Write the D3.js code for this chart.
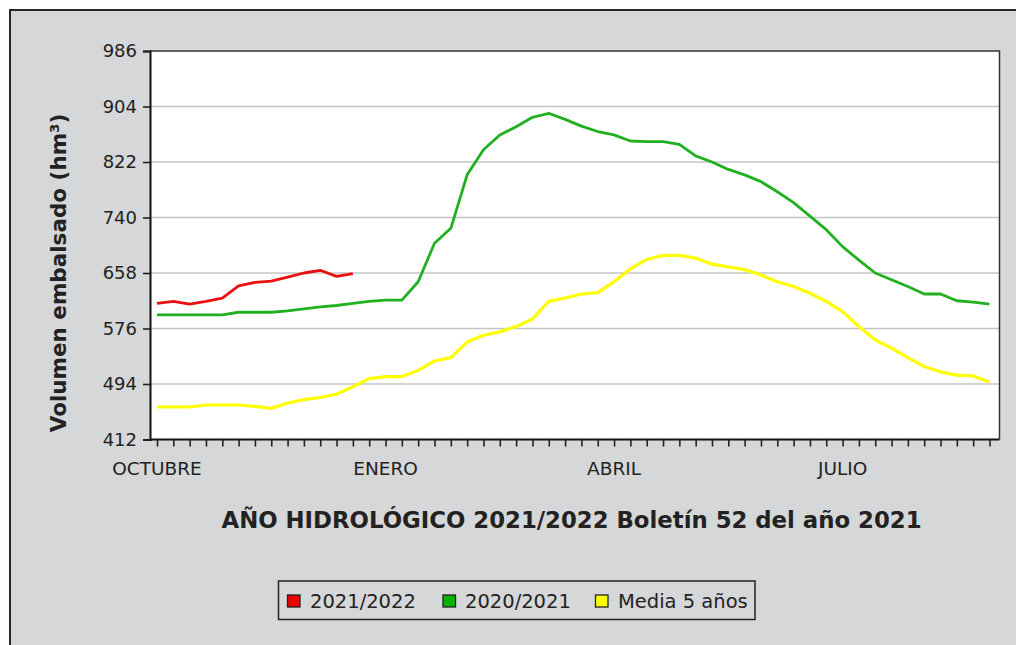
<!DOCTYPE html>
<html>
<head>
<meta charset="utf-8">
<script src="https://cdn.jsdelivr.net/npm/d3@7"></script>
<style>
  html, body { margin: 0; padding: 0; background: #ffffff; }
  svg { display: block; font-family: "DejaVu Sans", sans-serif; }
</style>
</head>
<body>
<svg id="chart" width="1016" height="645"></svg>
<script>
// ---- data ----
const weeks = d3.range(1, 53); // 52 weekly bulletins of the hydrological year
const monthLabels = ["OCTUBRE", "ENERO", "ABRIL", "JULIO"];
const monthLabelWeeks = [1, 15, 29, 43];
const yTickValues = [412, 494, 576, 658, 740, 822, 904, 986];
const seriesNames = ["2021/2022", "2020/2021", "Media 5 años"];

const serie2021_2022 = [613, 616, 612, 616, 621, 639, 644, 646, 652, 658, 662, 653, 657];

const serie2020_2021 = [596, 596, 596, 596, 596, 600, 600, 600, 602, 605, 608, 610, 613,
  616, 618, 618, 645, 702, 724, 803, 840, 862, 874, 888, 894, 885,
  875, 867, 862, 853, 852, 852, 848, 831, 822, 811, 803, 793, 778,
  762, 742, 722, 697, 677, 658, 648, 638, 627, 627, 617, 615, 612];

const serieMedia5 = [460, 460, 460, 463, 463, 463, 461, 458, 466, 471, 474, 479, 490,
  502, 505, 505, 514, 528, 533, 556, 566, 571, 579, 590, 616, 621,
  627, 629, 645, 664, 678, 684, 684, 680, 671, 667, 663, 655, 645,
  638, 628, 616, 601, 579, 559, 547, 533, 520, 512, 507, 506, 497];

const colors = ["#e81010", "#20b020", "#ffff00"];
const legendFill = ["#ee0000", "#00b400", "#ffff00"];

// ---- layout ----
const svg = d3.select("#chart");
const W = 1016, H = 645;
const plot = { left: 150, right: 999.5, top: 51, bottom: 439.5 };

// background
svg.append("rect").attr("x", 0).attr("y", 0).attr("width", W).attr("height", H).attr("fill", "#ffffff");
svg.append("rect").attr("x", 10).attr("y", 10).attr("width", W + 10).attr("height", H + 10)
  .attr("fill", "#d6d7d8").attr("stroke", "#111").attr("stroke-width", 1.8);

// plot background
svg.append("rect").attr("x", plot.left).attr("y", plot.top)
  .attr("width", plot.right - plot.left).attr("height", plot.bottom - plot.top)
  .attr("fill", "#ffffff");

const x = d3.scalePoint().domain(weeks).range([157, 989.5]);
const y = d3.scaleLinear().domain([412, 986]).range([plot.bottom, plot.top]);

// grid
svg.append("g").selectAll("line").data(yTickValues.slice(1, -1)).join("line")
  .attr("x1", plot.left).attr("x2", plot.right)
  .attr("y1", d => y(d)).attr("y2", d => y(d))
  .attr("stroke", "#c4c4c4").attr("stroke-width", 1.5);

// series lines
const line = d3.line().x((d, i) => x(weeks[i])).y(d => y(d));
const allSeries = [serieMedia5, serie2020_2021, serie2021_2022];
const allColors = [colors[2], colors[1], colors[0]];
svg.append("g").selectAll("path").data(allSeries).join("path")
  .attr("d", d => line(d))
  .attr("fill", "none")
  .attr("stroke", (d, i) => allColors[i])
  .attr("stroke-width", (d, i) => i === 0 ? 3.2 : 2.8)
  .attr("stroke-linejoin", "round");

// plot frame (top/right)
svg.append("path")
  .attr("d", `M${plot.left},${plot.top}H${plot.right}V${plot.bottom}`)
  .attr("fill", "none").attr("stroke", "#333").attr("stroke-width", 1.5);

// y axis
const yAxis = d3.axisLeft(y).tickValues(yTickValues).tickSize(7).tickPadding(6).tickFormat(d3.format("d"));
const gy = svg.append("g").attr("transform", `translate(${plot.left},0)`).call(yAxis);
gy.select(".domain").attr("stroke", "#111").attr("stroke-width", 2);
gy.selectAll(".tick line").attr("stroke", "#222").attr("stroke-width", 1.6);
gy.selectAll(".tick text").attr("font-size", 18).attr("fill", "#222")
  .attr("font-family", "DejaVu Sans");

// x axis
const xAxis = d3.axisBottom(x).tickSize(7).tickFormat("");
const gx = svg.append("g").attr("transform", `translate(0,${plot.bottom})`).call(xAxis);
gx.select(".domain").attr("d", `M${plot.left},0H${plot.right}`).attr("stroke", "#111").attr("stroke-width", 2);
gx.selectAll(".tick line").attr("stroke", "#222").attr("stroke-width", 1.6);

svg.append("g").selectAll("text").data(monthLabels).join("text")
  .attr("x", (d, i) => x(monthLabelWeeks[i]))
  .attr("y", 475)
  .attr("text-anchor", "middle")
  .attr("font-size", 18.5)
  .attr("fill", "#222")
  .text(d => d);

// y label
svg.append("text")
  .attr("transform", "translate(66,273) rotate(-90)")
  .attr("text-anchor", "middle")
  .attr("font-size", 21.5)
  .attr("font-weight", "bold")
  .attr("fill", "#222")
  .text("Volumen embalsado (hm³)");

// title
svg.append("text")
  .attr("x", 571.5).attr("y", 528)
  .attr("text-anchor", "middle")
  .attr("font-size", 22.8)
  .attr("font-weight", "bold")
  .attr("fill", "#222")
  .text("AÑO HIDROLÓGICO 2021/2022 Boletín 52 del año 2021");

// legend
const lg = svg.append("g");
lg.append("rect").attr("x", 278.5).attr("y", 581).attr("width", 476.5).attr("height", 38.5)
  .attr("fill", "#d6d7d8").attr("stroke", "#222").attr("stroke-width", 1.5);
const legendSwatchX = [287.5, 443, 595.5];
const legendTextX = [310, 465, 618];
const items = lg.selectAll("g.item").data(seriesNames).join("g").attr("class", "item");
items.append("rect")
  .attr("x", (d, i) => legendSwatchX[i]).attr("y", 595)
  .attr("width", 12.5).attr("height", 12)
  .attr("fill", (d, i) => legendFill[i]).attr("stroke", "#222").attr("stroke-width", 1.3);
items.append("text")
  .attr("x", (d, i) => legendTextX[i]).attr("y", 607.5)
  .attr("font-size", 19.5).attr("fill", "#222")
  .text(d => d);
</script>
</body>
</html>
